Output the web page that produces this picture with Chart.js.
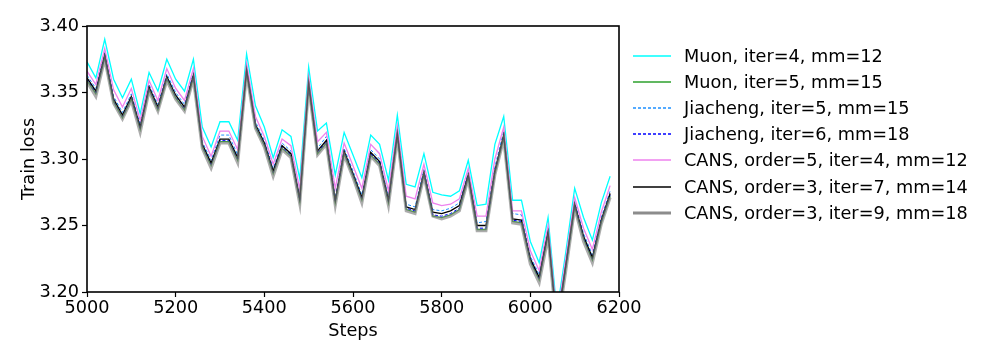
<!DOCTYPE html>
<html>
<head>
<meta charset="utf-8">
<script src="https://cdn.jsdelivr.net/npm/chart.js@4"></script>
<style>
  html, body { margin: 0; padding: 0; background: #fff; }
  #wrap { position: relative; width: 996px; height: 356px; }
  #chart { position: absolute; left: 0; top: 0; }
  #legend { position: absolute; left: 630px; top: 43px; font-family: 'DejaVu Sans', sans-serif; font-size: 17.7px; color: #000; }
  .legend-item { height: 26.1px; display: flex; align-items: center; white-space: nowrap; }
  .legend-item svg { width: 44px; height: 10px; margin-right: 10px; flex: none; }
</style>
</head>
<body>
<div id="wrap">
  <canvas id="chart" width="996" height="356"></canvas>
  <div id="legend"></div>
</div>
<script>
// x positions (training steps)
const steps = [5000, 5020, 5040, 5060, 5080, 5100, 5120, 5140, 5160, 5180,
  5200, 5220, 5240, 5260, 5280, 5300, 5320, 5340, 5360, 5380,
  5400, 5420, 5440, 5460, 5480, 5500, 5520, 5540, 5560, 5580,
  5600, 5620, 5640, 5660, 5680, 5700, 5720, 5740, 5760, 5780,
  5800, 5820, 5840, 5860, 5880, 5900, 5920, 5940, 5960, 5980,
  6000, 6020, 6040, 6060, 6080, 6100, 6120, 6140, 6160, 6180];

const xTicks = [5000, 5200, 5400, 5600, 5800, 6000, 6200];
const yTicks = [3.20, 3.25, 3.30, 3.35, 3.40];

const labels = [
  'Muon, iter=4, mm=12',
  'Muon, iter=5, mm=15',
  'Jiacheng, iter=5, mm=15',
  'Jiacheng, iter=6, mm=18',
  'CANS, order=5, iter=4, mm=12',
  'CANS, order=3, iter=7, mm=14',
  'CANS, order=3, iter=9, mm=18'
];

const muon4 = [3.373, 3.361, 3.390, 3.360, 3.346, 3.360, 3.334, 3.365, 3.351, 3.375,
  3.360, 3.351, 3.375, 3.324, 3.309, 3.328, 3.328, 3.314, 3.379, 3.340,
  3.324, 3.301, 3.322, 3.317, 3.285, 3.369, 3.321, 3.327, 3.288, 3.320,
  3.303, 3.286, 3.318, 3.311, 3.284, 3.333, 3.281, 3.279, 3.304, 3.275,
  3.273, 3.272, 3.276, 3.299, 3.265, 3.266, 3.311, 3.332, 3.269, 3.269,
  3.238, 3.222, 3.256, 3.185, 3.230, 3.278, 3.256, 3.239, 3.267, 3.287];

const muon5 = [3.359, 3.349, 3.376, 3.343, 3.331, 3.345, 3.322, 3.352, 3.337, 3.360,
  3.346, 3.337, 3.361, 3.309, 3.295, 3.313, 3.313, 3.299, 3.365, 3.324,
  3.310, 3.289, 3.308, 3.302, 3.268, 3.355, 3.304, 3.312, 3.267, 3.304,
  3.287, 3.269, 3.303, 3.296, 3.267, 3.317, 3.262, 3.260, 3.288, 3.257,
  3.256, 3.258, 3.262, 3.286, 3.247, 3.247, 3.289, 3.316, 3.253, 3.252,
  3.223, 3.209, 3.243, 3.173, 3.218, 3.264, 3.240, 3.224, 3.252, 3.272];

const jiacheng5 = [3.363, 3.353, 3.380, 3.347, 3.335, 3.349, 3.326, 3.356, 3.341, 3.364,
  3.350, 3.341, 3.365, 3.313, 3.299, 3.318, 3.318, 3.303, 3.369, 3.328,
  3.314, 3.293, 3.312, 3.306, 3.272, 3.359, 3.308, 3.317, 3.271, 3.308,
  3.291, 3.273, 3.307, 3.300, 3.271, 3.321, 3.266, 3.264, 3.292, 3.262,
  3.261, 3.263, 3.267, 3.290, 3.252, 3.253, 3.294, 3.321, 3.259, 3.258,
  3.227, 3.213, 3.247, 3.177, 3.222, 3.268, 3.244, 3.228, 3.256, 3.276];

const jiacheng6 = [3.360, 3.350, 3.377, 3.344, 3.332, 3.346, 3.323, 3.353, 3.338, 3.361,
  3.347, 3.338, 3.362, 3.310, 3.296, 3.314, 3.314, 3.300, 3.366, 3.325,
  3.311, 3.290, 3.309, 3.303, 3.269, 3.356, 3.305, 3.313, 3.268, 3.305,
  3.288, 3.270, 3.304, 3.297, 3.268, 3.318, 3.263, 3.261, 3.289, 3.258,
  3.257, 3.259, 3.263, 3.287, 3.248, 3.248, 3.290, 3.317, 3.254, 3.253,
  3.224, 3.210, 3.244, 3.174, 3.219, 3.265, 3.241, 3.225, 3.253, 3.273];

const cans5 = [3.366, 3.356, 3.383, 3.352, 3.339, 3.353, 3.329, 3.359, 3.344, 3.368,
  3.353, 3.344, 3.368, 3.317, 3.302, 3.321, 3.321, 3.307, 3.372, 3.332,
  3.317, 3.296, 3.315, 3.310, 3.277, 3.362, 3.313, 3.320, 3.278, 3.312,
  3.295, 3.278, 3.311, 3.304, 3.276, 3.325, 3.272, 3.270, 3.296, 3.267,
  3.265, 3.266, 3.270, 3.293, 3.257, 3.257, 3.300, 3.324, 3.261, 3.261,
  3.231, 3.216, 3.250, 3.180, 3.225, 3.271, 3.248, 3.232, 3.260, 3.280];

const cans3i7 = [3.361, 3.351, 3.378, 3.345, 3.333, 3.347, 3.324, 3.354, 3.339, 3.362,
  3.348, 3.339, 3.363, 3.311, 3.297, 3.315, 3.315, 3.301, 3.367, 3.326,
  3.312, 3.291, 3.310, 3.304, 3.270, 3.357, 3.306, 3.314, 3.269, 3.306,
  3.289, 3.271, 3.305, 3.298, 3.269, 3.319, 3.264, 3.262, 3.290, 3.260,
  3.259, 3.261, 3.265, 3.288, 3.250, 3.250, 3.291, 3.318, 3.255, 3.254,
  3.225, 3.211, 3.245, 3.175, 3.220, 3.266, 3.242, 3.226, 3.254, 3.274];

const cans3i9 = [3.358, 3.347, 3.375, 3.342, 3.330, 3.344, 3.320, 3.351, 3.336, 3.359,
  3.345, 3.336, 3.360, 3.308, 3.293, 3.312, 3.312, 3.297, 3.364, 3.323,
  3.309, 3.287, 3.307, 3.301, 3.266, 3.354, 3.303, 3.311, 3.265, 3.303,
  3.286, 3.267, 3.302, 3.295, 3.265, 3.316, 3.261, 3.259, 3.287, 3.257,
  3.255, 3.257, 3.261, 3.285, 3.246, 3.246, 3.288, 3.315, 3.252, 3.251,
  3.221, 3.207, 3.241, 3.171, 3.216, 3.263, 3.238, 3.222, 3.251, 3.271];

const seriesValues = [muon4, muon5, jiacheng5, jiacheng6, cans5, cans3i7, cans3i9];
const colors = ['#00ffff', '#2ca02c', '#1e90ff', '#0000ff', '#ee82ee', '#000000', 'rgba(128,128,128,0.65)'];
const legendColors = ['#00ffff', '#2ca02c', '#1e90ff', '#0000ff', '#ee82ee', '#000000', '#8c8c8c'];
const widths = [1.3, 1.3, 1, 1, 1.3, 1.3, 3];
const dashes = [[], [], [3, 2], [3, 2], [], [], []];

const FONT = "'DejaVu Sans', sans-serif";
const FONT_SIZE = 17.7;

// draws the full box around the plot area (matplotlib style frame)
const framePlugin = {
  id: 'frame',
  afterDraw(chart) {
    const { ctx, chartArea: a } = chart;
    ctx.save();
    ctx.strokeStyle = '#000';
    ctx.lineWidth = 1.6;
    ctx.strokeRect(a.left, a.top, a.right - a.left, a.bottom - a.top);
    ctx.restore();
  }
};

// later series drawn on top, like matplotlib
const datasets = seriesValues.map((vals, i) => ({
  label: labels[i],
  data: vals.map((v, j) => ({ x: steps[j], y: v })),
  borderColor: colors[i],
  backgroundColor: colors[i],
  borderWidth: widths[i],
  borderDash: dashes[i],
  pointRadius: 0,
  tension: 0,
  fill: false,
  order: 10 - i
}));

new Chart(document.getElementById('chart').getContext('2d'), {
  type: 'line',
  data: { datasets },
  options: {
    responsive: false,
    animation: false,
    layout: { padding: { top: 26, right: 377, left: 0, bottom: 0 } },
    plugins: { legend: { display: false }, tooltip: { enabled: false } },
    scales: {
      x: {
        type: 'linear',
        min: 5000,
        max: 6200,
        afterFit(scale) { scale.height = 64; },
        afterBuildTicks(scale) { scale.ticks = xTicks.map(v => ({ value: v })); },
        ticks: { color: '#000', font: { family: FONT, size: FONT_SIZE }, padding: 1, maxRotation: 0, callback: v => String(v) },
        grid: { drawOnChartArea: false, drawTicks: true, tickLength: 5, color: '#000', tickWidth: 1.2 },
        border: { display: false },
        title: { display: true, text: 'Steps', color: '#000', font: { family: FONT, size: FONT_SIZE }, padding: { top: 0, bottom: 14 } }
      },
      y: {
        min: 3.20,
        max: 3.40,
        afterFit(scale) { scale.width = 87; },
        afterBuildTicks(scale) { scale.ticks = yTicks.map(v => ({ value: v })); },
        ticks: { color: '#000', font: { family: FONT, size: FONT_SIZE }, padding: 3, callback: v => v.toFixed(2) },
        grid: { drawOnChartArea: false, drawTicks: true, tickLength: 5, color: '#000', tickWidth: 1.2 },
        border: { display: false },
        title: { display: true, text: 'Train loss', color: '#000', font: { family: FONT, size: FONT_SIZE }, padding: { top: 19, bottom: 0 } }
      }
    }
  },
  plugins: [framePlugin]
});

// legend built by hand on the right side
const legendContainer = document.getElementById('legend');
labels.forEach((label, i) => {
  const item = document.createElement('div');
  item.className = 'legend-item';
  const dash = dashes[i].length ? ` stroke-dasharray="${dashes[i].join(',')}"` : '';
  const w = Math.max(widths[i], 1.5);
  item.innerHTML = `<svg viewBox="0 0 44 10"><line x1="3" y1="5" x2="41" y2="5" stroke="${legendColors[i]}" stroke-width="${w}"${dash}/></svg>`;
  const text = document.createElement('span');
  text.textContent = label;
  item.appendChild(text);
  legendContainer.appendChild(item);
});
</script>
</body>
</html>
